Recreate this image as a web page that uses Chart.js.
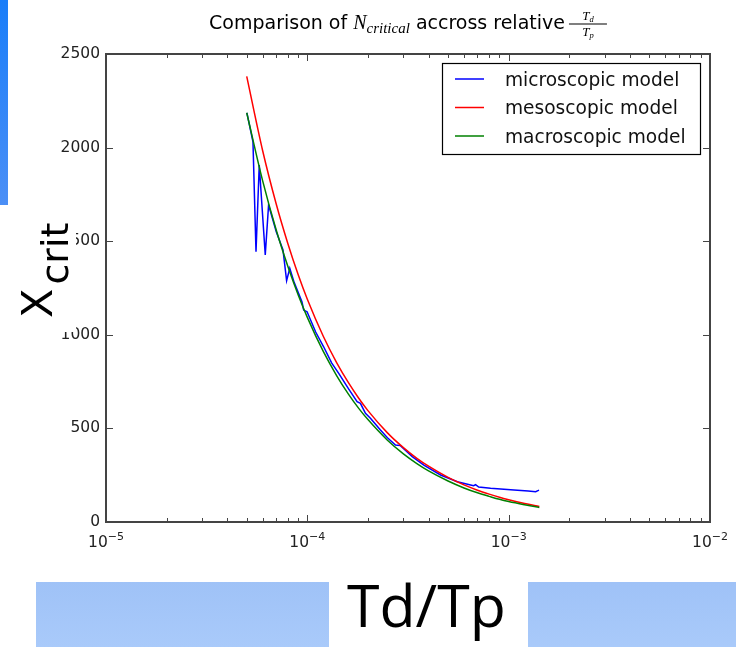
<!DOCTYPE html>
<html>
<head>
<meta charset="utf-8">
<script src="https://cdn.jsdelivr.net/npm/chart.js@4.4.0/dist/chart.umd.min.js"></script>
<style>
  html, body { margin: 0; padding: 0; background: #fff; }
  #wrap { position: relative; width: 736px; height: 647px; overflow: hidden; }
  #chart { position: absolute; left: 0; top: 0; }
  .slide-bar { position: absolute; left: 0; top: 0; width: 8px; height: 205px; background: linear-gradient(#1a7ef9, #4b8ff6); }
  .mask { position: absolute; left: 10px; top: 212px; width: 66px; height: 120px; background: #fff; }
  #ylab { position: absolute; left: 16px; top: 318px; transform: rotate(-90deg); transform-origin: 0 0;
          font-family: 'DejaVu Sans', sans-serif; font-size: 43px; line-height: 1; white-space: nowrap; color: #000; }
  #ylab span { font-size: 38px; position: relative; top: 16px; margin-left: 4px; }
  .band { position: absolute; top: 582px; height: 65px; background: linear-gradient(#9fc2f7, #a9cafa); }
  #xlab { position: absolute; left: 347px; top: 575px; font-family: 'Open Sans', sans-serif; font-size: 59px;
          line-height: 1; white-space: nowrap; color: #000; }
</style>
</head>
<body>
<div id="wrap">
  <canvas id="chart" width="736" height="647"></canvas>
  <div class="slide-bar"></div>
  <div class="mask"></div>
  <div id="ylab">X<span>crit</span></div>
  <div class="band" style="left:36px;width:293px"></div>
  <div class="band" style="left:528px;width:208px"></div>
  <div id="xlab">Td/Tp</div>
</div>
<script>
// ---------- Data ----------
const tdTpSmooth = [5.0e-5, 6e-5, 7e-5, 8e-5, 9e-5, 1.0e-4, 1.2e-4, 1.4e-4, 1.6e-4, 1.8e-4, 2.0e-4,
  2.5e-4, 3.0e-4, 3.5e-4, 4.0e-4, 5.0e-4, 6.0e-4, 7.0e-4, 8.0e-4, 9.0e-4, 1.0e-3, 1.2e-3, 1.42e-3];
const mesoValues = [2380, 1983, 1700, 1488, 1322, 1190, 992, 850, 744, 661, 595,
  476, 397, 340, 298, 238, 198, 170, 149, 132, 119, 99, 83];
const macroValues = [2186, 1822, 1561, 1366, 1214, 1093, 911, 781, 683, 607, 547,
  437, 364, 312, 273, 219, 182, 156, 137, 121, 109, 92, 78];

const tdTpMicro = [5.01e-5, 5.37e-5, 5.56e-5, 5.77e-5, 6.18e-5, 6.42e-5, 7.01e-5, 7.57e-5, 7.89e-5, 8.18e-5,
  8.6e-5, 9.41e-5, 9.59e-5, 9.97e-5, 1.1e-4, 1.205e-4, 1.32e-4, 1.432e-4, 1.6e-4, 1.767e-4,
  1.835e-4, 1.944e-4, 2.058e-4, 2.307e-4, 2.5e-4, 2.74e-4, 2.9e-4, 3.32e-4, 3.79e-4, 4.59e-4,
  5.56e-4, 6.47e-4, 6.7e-4, 6.85e-4, 7.1e-4, 8.13e-4, 1.063e-3, 1.25e-3, 1.362e-3, 1.415e-3];
const microValues = [2186, 2031, 1444, 1907, 1426, 1693, 1551, 1453, 1289, 1355,
  1280, 1175, 1132, 1123, 1015, 936, 850, 794, 712, 643,
  634, 581, 554, 491, 450, 411, 408, 349, 304, 251,
  215, 198, 194, 200, 187, 180, 171, 166, 162, 170];

const seriesLabels = ['microscopic model', 'mesoscopic model', 'macroscopic model'];
const seriesColors = ['#0000ff', '#ff0000', '#008000'];
const yTicks = [0, 500, 1000, 1500, 2000, 2500];
const xDecades = [-5, -4, -3, -2];

const pts = (xs, ys) => xs.map((v, i) => ({ x: v, y: ys[i] }));

// ---------- Title, legend, inward ticks, spines ----------
function drawTitle(ctx, cx, base) {
  const sans = '19px "DejaVu Sans"';
  const ital = s => `italic ${s}px "Liberation Serif"`;
  const parts = [
    { t: 'Comparison of ', f: sans, dy: 0 },
    { t: 'N', f: ital(20), dy: 0 },
    { t: 'critical', f: ital(15), dy: 4 },
    { t: ' accross relative', f: sans, dy: 0 },
  ];
  let total = 0;
  for (const p of parts) { ctx.font = p.f; p.w = ctx.measureText(p.t).width; total += p.w; }
  const fracGap = 4, fracW = 38;
  total += fracGap + fracW;
  let x = cx - total / 2;
  ctx.fillStyle = '#000';
  ctx.textAlign = 'left';
  ctx.textBaseline = 'alphabetic';
  for (const p of parts) { ctx.font = p.f; ctx.fillText(p.t, x, base + p.dy); x += p.w; }
  x += fracGap;
  // fraction Td over Tp
  ctx.fillRect(x, base - 5.5, fracW, 1);
  const mid = x + fracW / 2;
  ctx.font = ital(13);
  const tw = ctx.measureText('T').width;
  ctx.fillText('T', mid - tw / 2 - 2, base - 9);
  ctx.fillText('T', mid - tw / 2 - 2, base + 7);
  ctx.font = ital(8.5);
  ctx.fillText('d', mid + tw / 2 - 2, base - 7);
  ctx.fillText('p', mid + tw / 2 - 2, base + 9);
}

const decor = {
  id: 'decor',
  afterDraw(chart) {
    const { ctx, chartArea: a, scales: { x, y } } = chart;
    ctx.save();

    // inward tick marks (major + minor on the log axis)
    ctx.strokeStyle = '#444';
    ctx.lineWidth = 1;
    ctx.beginPath();
    for (const e of xDecades) {
      for (let m = 1; m <= 9; m++) {
        const v = m * Math.pow(10, e);
        if (v > x.max * 1.0001) break;
        const px = Math.round(x.getPixelForValue(v)) + 0.5;
        const len = m === 1 ? 7 : 4;
        ctx.moveTo(px, a.bottom); ctx.lineTo(px, a.bottom - len);
        ctx.moveTo(px, a.top); ctx.lineTo(px, a.top + len);
      }
    }
    for (const v of yTicks) {
      const py = Math.round(y.getPixelForValue(v)) + 0.5;
      ctx.moveTo(a.left, py); ctx.lineTo(a.left + 7, py);
      ctx.moveTo(a.right, py); ctx.lineTo(a.right - 7, py);
    }
    ctx.stroke();

    // spines
    ctx.lineWidth = 2;
    ctx.strokeStyle = '#444';
    ctx.strokeRect(a.left, a.top, a.right - a.left, a.bottom - a.top);

    // x tick labels 10^n
    ctx.fillStyle = '#222';
    ctx.textBaseline = 'alphabetic';
    ctx.textAlign = 'left';
    for (const e of xDecades) {
      const px = x.getPixelForValue(Math.pow(10, e));
      ctx.font = '15.5px "DejaVu Sans"';
      const w1 = ctx.measureText('10').width;
      ctx.font = '11px "DejaVu Sans"';
      const sup = '\u2212' + Math.abs(e);
      const w2 = ctx.measureText(sup).width;
      const sx = px - (w1 + w2) / 2;
      ctx.font = '15.5px "DejaVu Sans"';
      ctx.fillText('10', sx, a.bottom + 25);
      ctx.font = '11px "DejaVu Sans"';
      ctx.fillText(sup, sx + w1, a.bottom + 18);
    }

    // legend box
    const lx = a.right - 268, ly = a.top + 9, lw = 258, lh = 91;
    ctx.fillStyle = '#fff';
    ctx.fillRect(lx, ly, lw, lh);
    ctx.lineWidth = 1.2;
    ctx.strokeStyle = '#000';
    ctx.strokeRect(lx + 0.5, ly + 0.5, lw, lh);
    chart.data.datasets.forEach((ds, i) => {
      const ry = ly + 16 + i * 28.5;
      ctx.strokeStyle = ds.borderColor;
      ctx.lineWidth = 1.5;
      ctx.beginPath();
      ctx.moveTo(lx + 13, ry); ctx.lineTo(lx + 42, ry);
      ctx.stroke();
      ctx.fillStyle = '#111';
      ctx.font = '18.6px "DejaVu Sans"';
      ctx.fillText(ds.label, lx + 63, ry + 6.5);
    });

    drawTitle(ctx, (a.left + a.right) / 2, 29);
    ctx.restore();
  }
};

// ---------- Chart ----------
new Chart(document.getElementById('chart'), {
  type: 'line',
  data: {
    datasets: [
      { label: seriesLabels[0], data: pts(tdTpMicro, microValues), borderColor: seriesColors[0],
        borderWidth: 1.5, pointRadius: 0, tension: 0, order: 2 },
      { label: seriesLabels[1], data: pts(tdTpSmooth, mesoValues), borderColor: seriesColors[1],
        borderWidth: 1.5, pointRadius: 0, cubicInterpolationMode: 'monotone', order: 1 },
      { label: seriesLabels[2], data: pts(tdTpSmooth, macroValues), borderColor: seriesColors[2],
        borderWidth: 1.5, pointRadius: 0, cubicInterpolationMode: 'monotone', order: 0 }
    ]
  },
  options: {
    responsive: false,
    animation: false,
    devicePixelRatio: 1,
    layout: { padding: { top: 54, right: 26, bottom: 0, left: 0 } },
    plugins: { legend: { display: false }, title: { display: false }, tooltip: { enabled: false } },
    scales: {
      x: {
        type: 'logarithmic', min: 1e-5, max: 1e-2,
        grid: { display: false, drawTicks: false },
        border: { display: false },
        ticks: { display: false },
        afterFit: s => { s.height = 125; }
      },
      y: {
        min: 0, max: 2500,
        grid: { display: false, drawTicks: false },
        border: { display: false },
        afterBuildTicks: s => { s.ticks = yTicks.map(v => ({ value: v })); },
        ticks: { padding: 6, color: '#222', font: { family: 'DejaVu Sans', size: 15.5 },
                 callback: v => String(v) },
        afterFit: s => { s.width = 106; }
      }
    }
  },
  plugins: [decor]
});
</script>
</body>
</html>
